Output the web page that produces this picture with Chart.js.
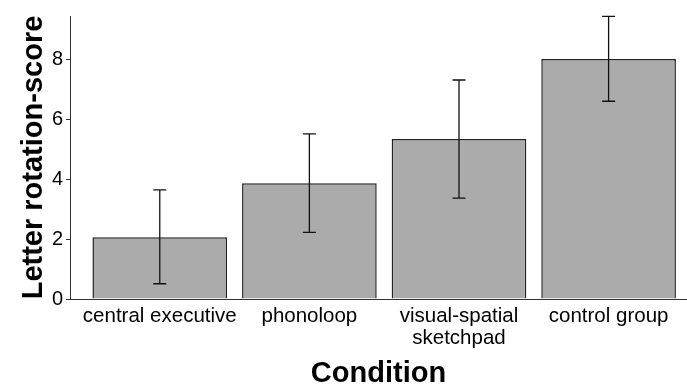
<!DOCTYPE html>
<html>
<head>
<meta charset="utf-8">
<script src="https://cdn.jsdelivr.net/npm/chart.js@4"></script>
<style>
  html, body { margin: 0; padding: 0; background: #fff; }
  #wrap { width: 687px; height: 387px; }
</style>
</head>
<body>
<div id="wrap"><canvas id="chart"></canvas></div>
<script>
const categories = ['central executive', 'phonoloop', 'visual-spatial\nsketchpad', 'control group'];
const means = [2.06, 3.87, 5.35, 8.02];
const errLow = [0.51, 2.23, 3.37, 6.61];
const errHigh = [3.65, 5.52, 7.32, 9.45];
const yTicks = [0, 2, 4, 6, 8];

const font = "'Liberation Sans', Arial, sans-serif";

// error bars drawn from the data through the chart's scales
const errorBars = {
  id: 'errorBars',
  afterDatasetsDraw(chart) {
    const { ctx, scales: { x, y } } = chart;
    const cap = 6.5;
    ctx.save();
    ctx.strokeStyle = '#111';
    ctx.lineWidth = 1.3;
    means.forEach((_, i) => {
      const px = x.getPixelForValue(i + 1);
      const lo = y.getPixelForValue(errLow[i]);
      const hi = y.getPixelForValue(errHigh[i]);
      ctx.beginPath();
      ctx.moveTo(px, lo); ctx.lineTo(px, hi);
      ctx.moveTo(px - cap, lo); ctx.lineTo(px + cap, lo);
      ctx.moveTo(px - cap, hi); ctx.lineTo(px + cap, hi);
      ctx.stroke();
    });
    ctx.restore();
  }
};

new Chart(document.getElementById('chart'), {
  type: 'bar',
  data: {
    datasets: [{
      data: means.map((m, i) => ({ x: i + 1, y: m })),
      backgroundColor: '#ababab',
      borderColor: '#222',
      borderWidth: 1.5,
      categoryPercentage: 1,
      barPercentage: 0.9
    }]
  },
  options: {
    responsive: true,
    maintainAspectRatio: false,
    animation: false,
    layout: { padding: { top: 16, right: 0, left: 0, bottom: 0 } },
    plugins: { legend: { display: false }, tooltip: { enabled: false } },
    scales: {
      x: {
        type: 'linear',
        offset: false,
        min: 0.4,
        max: 4.524,
        afterBuildTicks: s => { s.ticks = categories.map((_, i) => ({ value: i + 1 })); },
        afterFit: s => { s.height = 88; },
        grid: { display: false, drawTicks: false, offset: false },
        border: { display: true, color: '#333', width: 1 },
        ticks: {
          autoSkip: false,
          maxRotation: 0,
          padding: 6,
          color: '#000',
          font: { family: font, size: 20.5, lineHeight: 1.08 },
          callback: v => categories[v - 1].split('\n')
        },
        title: {
          display: true,
          text: 'Condition',
          color: '#000',
          padding: { top: 0, bottom: 0 },
          font: { family: font, size: 29, weight: 'bold', lineHeight: 0.9 }
        }
      },
      y: {
        min: 0,
        max: 9.46,
        afterBuildTicks: s => { s.ticks = yTicks.map(v => ({ value: v })); },
        afterFit: s => { s.width = 70; },
        grid: { display: true, drawOnChartArea: false, drawTicks: true, tickLength: 4, tickColor: '#333' },
        border: { display: true, color: '#333', width: 1 },
        ticks: {
          padding: 3,
          color: '#000',
          font: { family: font, size: 20 }
        },
        title: {
          display: true,
          text: 'Letter rotation-score',
          color: '#000',
          padding: { top: 19, bottom: 0 },
          font: { family: font, size: 29, weight: 'bold', lineHeight: 1 }
        }
      }
    }
  },
  plugins: [errorBars]
});
</script>
</body>
</html>
